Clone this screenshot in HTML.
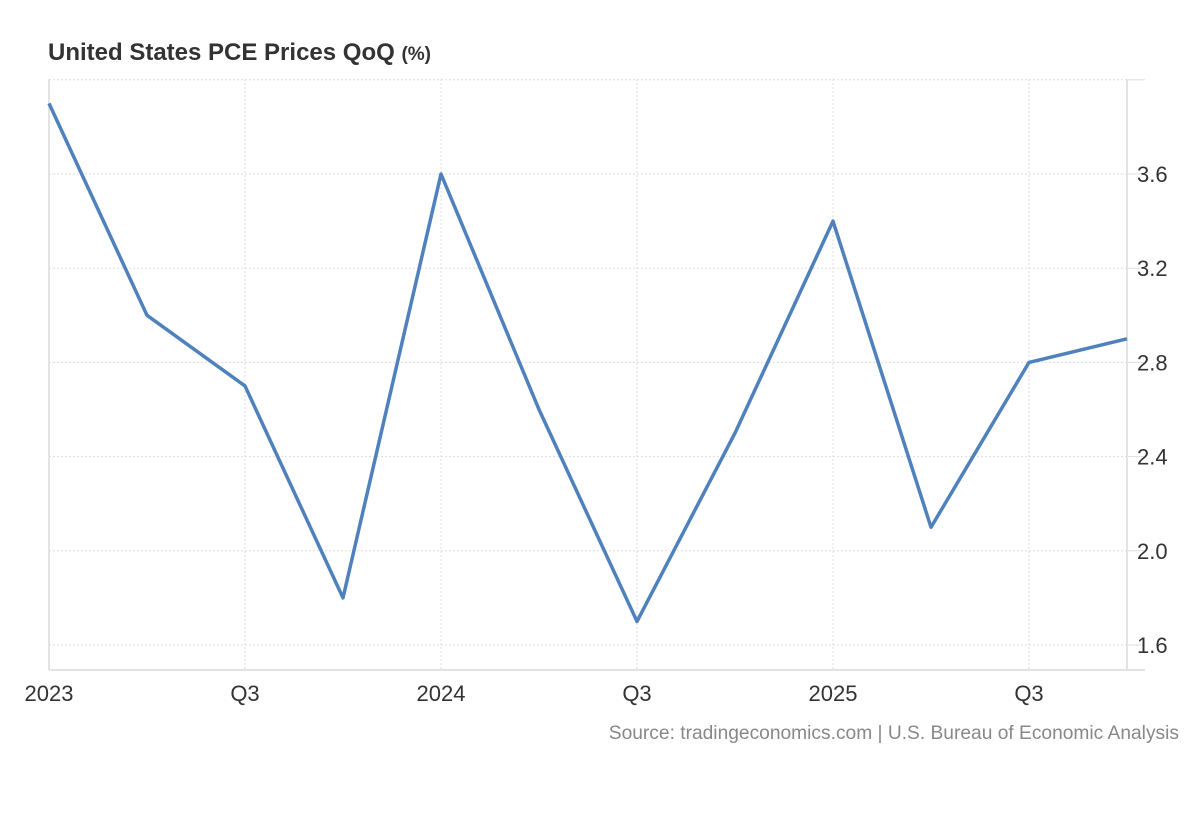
<!DOCTYPE html>
<html><head><meta charset="utf-8"><style>
html,body{margin:0;padding:0;background:#fff;width:1200px;height:820px;overflow:hidden}
svg{display:block;font-family:"Liberation Sans",Arial,sans-serif}
</style></head><body>
<svg id="chart" width="1200" height="820">
<text x="48" y="60" font-size="24" font-weight="bold" fill="#333">United States PCE Prices QoQ <tspan font-size="19">(%)</tspan></text>
<g id="grid"></g>
<g id="axes"></g>
<g id="series"></g>
<text x="1179" y="739" font-size="19.2" fill="#888" text-anchor="end">Source: tradingeconomics.com | U.S. Bureau of Economic Analysis</text>
</svg>
<script>
const categories = ["2023 Q1","2023 Q2","2023 Q3","2023 Q4","2024 Q1","2024 Q2","2024 Q3","2024 Q4","2025 Q1","2025 Q2","2025 Q3","2025 Q4"];
const values = [3.9,3.0,2.7,1.8,3.6,2.6,1.7,2.5,3.4,2.1,2.8,2.9];
const yTicks = [1.6,2.0,2.4,2.8,3.2,3.6,4.0];
const yTickLabels = ["1.6","2.0","2.4","2.8","3.2","3.6",""];
const xTickIdx = [0,2,4,6,8,10];
const xTickLabels = ["2023","Q3","2024","Q3","2025","Q3"];

const NS="http://www.w3.org/2000/svg";
const L=49,R=1127,T=79,B=670;
const step=(R-L)/(categories.length-1);
const x=i=>L+i*step;
const y=v=>645-(v-1.6)*(645-174)/2.0;
function mk(tag,attrs,parent){const e=document.createElementNS(NS,tag);for(const k in attrs)e.setAttribute(k,attrs[k]);parent.appendChild(e);return e;}
const grid=document.getElementById('grid'),axes=document.getElementById('axes'),series=document.getElementById('series');
yTicks.forEach((t,i)=>{
  const g=mk('line',{x1:L,x2:R,y1:y(t),y2:y(t),stroke:'#ddd','stroke-dasharray':'2,2'},grid);
  
  
  const tk=mk('line',{x1:R,x2:R+18,y1:y(t),y2:y(t),stroke:'#ddd'},axes);
  
  
  if(yTickLabels[i]){
    const tx=mk('text',{x:R+10,y:y(t)+8,'font-size':22,fill:'#333'},axes);
    tx.textContent=yTickLabels[i];
    
    
  }
});
xTickIdx.forEach((ix,i)=>{
  if(ix>0){
    const g=mk('line',{x1:x(ix),x2:x(ix),y1:T,y2:B,stroke:'#ddd','stroke-dasharray':'2,2'},grid);
    
    
  }
  const tx=mk('text',{x:x(ix),y:701,'font-size':22,fill:'#333','text-anchor':'middle'},axes);
  tx.textContent=xTickLabels[i];
  
  
});
const la=mk('line',{x1:L,x2:L,y1:T,y2:B,stroke:'#e3e3e3','stroke-width':2},axes);


const ra=mk('line',{x1:R,x2:R,y1:T,y2:B,stroke:'#e3e3e3','stroke-width':2},axes);


const ba=mk('line',{x1:L,x2:R+18,y1:B,y2:B,stroke:'#e3e3e3','stroke-width':2},axes);


const pts=values.map((v,i)=>x(i)+','+y(v)).join(' ');
const pl=mk('polyline',{points:pts,fill:'none',stroke:'#4f81bd','stroke-width':3.5,'stroke-linejoin':'round'},series);


</script>
</body></html>
